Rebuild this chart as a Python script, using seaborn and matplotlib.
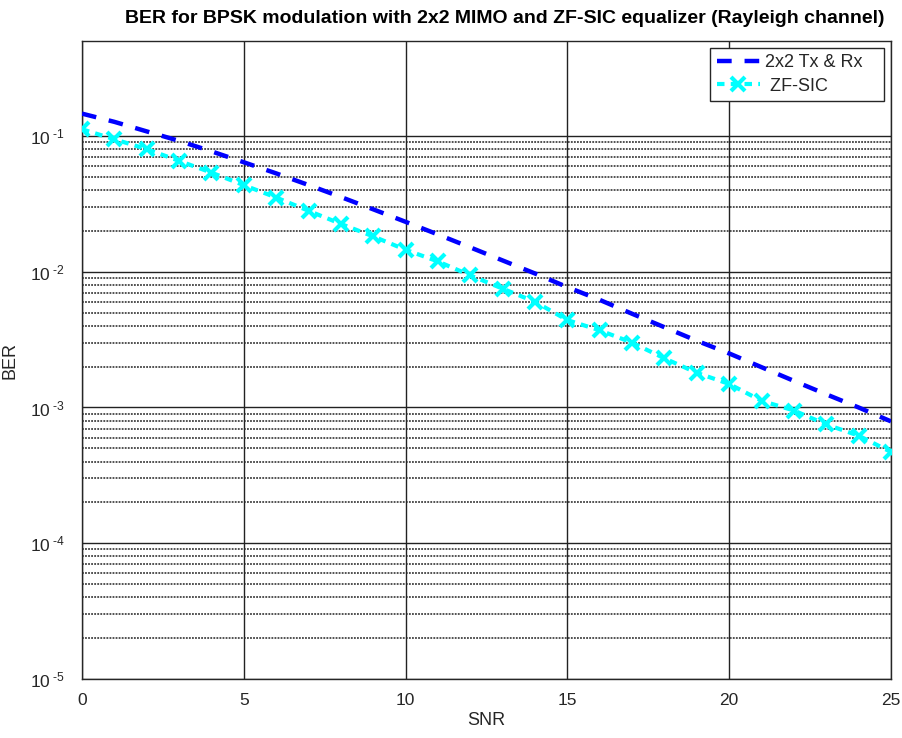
import matplotlib
matplotlib.use("Agg")
import matplotlib.pyplot as plt
import numpy as np
import pandas as pd
import seaborn as sns
from matplotlib.ticker import FixedLocator, FuncFormatter

# SNR points (dB)
snr = list(range(0, 26))

# theoretical 2x2 Tx & Rx curve
ber_theory = [0.146, 0.127, 0.108, 0.092, 0.077, 0.064, 0.053, 0.0435, 0.0355,
              0.0288, 0.0233, 0.0188, 0.0151, 0.0121, 0.0097, 0.0077, 0.0062,
              0.0049, 0.0039, 0.0031, 0.0025, 0.00198, 0.00157, 0.00125,
              0.00100, 0.00079]

# simulated ZF-SIC curve
ber_zfsic = [0.112, 0.0945, 0.080, 0.0655, 0.0537, 0.0434, 0.0352, 0.0281,
             0.0225, 0.0182, 0.0145, 0.0119, 0.0094, 0.0075, 0.0060, 0.0044,
             0.0037, 0.0030, 0.0023, 0.0018, 0.00149, 0.00112, 0.00095,
             0.00075, 0.00062, 0.00047]

labels = ["2x2 Tx & Rx   ", " ZF-SIC"]
title = "BER for BPSK modulation with 2x2 MIMO and ZF-SIC equalizer (Rayleigh channel)"

sns.set_theme(style="white")
plt.rcParams["font.family"] = ["Liberation Sans", "DejaVu Sans"]
plt.rcParams["mathtext.fontset"] = "custom"
plt.rcParams["mathtext.rm"] = "Liberation Sans"
plt.rcParams["mathtext.default"] = "regular"

txt = "#262626"

fig = plt.figure(figsize=(9.02, 7.38), dpi=100)
ax = fig.add_axes([0.0909, 0.0799, 0.8969, 0.8645])

df = pd.DataFrame({"SNR": snr, "theory": ber_theory, "zfsic": ber_zfsic})

sns.lineplot(data=df, x="SNR", y="theory", ax=ax, color="#0000ff",
             linewidth=3.2, label=labels[0], zorder=4)
ax.lines[-1].set_dashes([3.3, 2.9])
sns.lineplot(data=df, x="SNR", y="zfsic", ax=ax, color="#00ffff",
             linewidth=3.0, marker="x", markersize=10, markeredgewidth=3.0,
             markeredgecolor="#00ffff", label=labels[1], zorder=5)
ax.lines[-1].set_dashes([1.8, 1.5])

ax.set_yscale("log")
ax.set_xlim(0, 25)
ax.set_ylim(1e-5, 0.5)
ax.xaxis.set_major_locator(FixedLocator([0, 5, 10, 15, 20, 25]))
ax.yaxis.set_major_locator(FixedLocator([1e-5, 1e-4, 1e-3, 1e-2, 1e-1]))
minor = [m * 10.0 ** e for e in range(-5, -1) for m in range(2, 10)]
ax.yaxis.set_minor_locator(FixedLocator(minor))
ax.yaxis.set_major_formatter(FuncFormatter(
    lambda v, p: r"$10^{\;\text{-}%d}$" % abs(int(round(np.log10(v))))))

ax.grid(True, which="major", axis="x", color="#222222", linewidth=1.0, linestyle="-")
ax.grid(True, which="major", axis="y", color="#222222", linewidth=1.0, linestyle="-")
ax.grid(True, which="minor", axis="y", color="#222222", linewidth=1.1, linestyle=(0, (1.2, 0.8)))
ax.set_axisbelow(True)

for s in ax.spines.values():
    s.set_color(txt)
    s.set_linewidth(1.0)
    s.set_visible(True)

ax.tick_params(axis="both", which="both", length=0, labelsize=12.5, labelcolor=txt)
ax.tick_params(axis="x", pad=10)
ax.tick_params(axis="y", pad=12)
ax.set_xlabel("SNR", fontsize=13, color=txt, labelpad=3)
ax.set_ylabel("BER", fontsize=13, color=txt)
ax.yaxis.set_label_coords(-0.079, 0.5)
ax.set_title(title, fontsize=14, fontweight="bold", color="black", pad=13,
             x=0.523)

leg = ax.legend(loc="upper right", fontsize=13, frameon=True, fancybox=False,
                edgecolor=txt, framealpha=1, handlelength=2.4, handletextpad=0.3,
                borderaxespad=0.38, labelspacing=0.35, borderpad=0.35)
leg.get_frame().set_linewidth(1.0)

fig.savefig("out.png", dpi=100)
